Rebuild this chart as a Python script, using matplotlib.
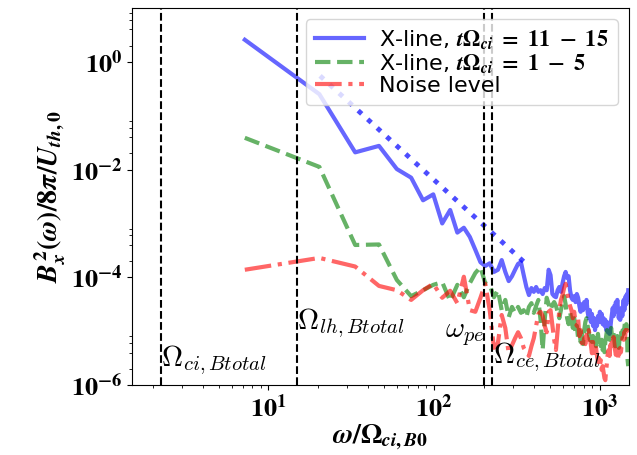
import numpy as np
import matplotlib
matplotlib.use("Agg")
import matplotlib.pyplot as plt
from matplotlib import ticker

plt.rcParams['mathtext.fontset'] = 'custom'
plt.rcParams['mathtext.rm'] = 'STIXGeneral:bold'
plt.rcParams['mathtext.it'] = 'STIXGeneral:bold:italic'
plt.rcParams['mathtext.bf'] = 'STIXGeneral:bold'

# frequency bins (omega / Omega_ci,B0)
omega0 = 7.2
dw = 13.1

# log10 of B_x^2 spectra
logb_late = [
    0.41, -0.60, -1.68, -1.56, -1.99, -2.15, -2.57, -2.46, -3.00, -2.75,
    -3.17, -3.08, -3.25, -3.49, -3.72, -3.79, -3.74, -3.90, -3.86, -3.68,
    -3.90, -4.07, -3.98, -3.86, -3.75, -3.72, -3.96, -4.18, -4.33, -4.20,
    -4.27, -4.18, -4.27, -4.24, -4.31, -4.20, -4.24, -3.86, -3.96, -4.31,
    -4.35, -4.37, -4.24, -4.18, -4.27, -4.11, -3.98, -3.90, -4.01, -3.98,
    -4.24, -4.38, -4.42, -4.35, -4.46, -4.31, -4.38, -4.53, -4.64, -4.50,
    -4.61, -4.46, -4.57, -4.42, -4.64, -4.76, -4.61, -4.83, -4.68, -4.90,
    -4.76, -4.98, -4.79, -4.90, -4.72, -4.83, -4.64, -4.79, -4.68, -4.87,
    -4.76, -4.90, -4.79, -4.98, -4.83, -5.02, -4.90, -5.05, -4.94, -4.79,
    -4.68, -4.57, -4.72, -4.53, -4.64, -4.46, -4.57, -4.42, -4.61, -4.76,
    -4.64, -4.79, -4.68, -4.57, -4.72, -4.53, -4.42, -4.61, -4.46, -4.35,
    -4.50, -4.31, -4.42, -4.24,
]
logb_early = [
    -1.41, -1.95, -3.40, -3.39, -4.05, -4.35, -4.24, -4.14, -4.09, -4.44,
    -4.14, -4.37, -4.11, -3.92, -3.81, -4.11, -4.14, -4.37, -4.24, -4.61,
    -4.42, -4.74, -4.55, -4.66, -4.55, -4.66, -4.61, -4.74, -4.55, -4.48,
    -4.66, -4.53, -4.42, -4.79, -5.35, -4.79, -4.38, -4.50, -4.61, -4.51,
    -4.46, -4.53, -4.64, -4.76, -4.61, -4.46, -4.35, -4.50, -4.76, -4.87,
    -4.64, -4.79, -4.94, -4.76, -5.05, -4.90, -5.13, -4.98, -5.20, -5.05,
    -5.24, -4.98, -4.83, -4.76, -4.90, -5.02, -5.16, -5.05, -5.20, -5.09,
    -5.24, -5.13, -5.28, -5.16, -5.05, -5.20, -5.09, -5.28, -5.16, -5.35,
    -5.24, -5.39, -5.20, -5.09, -4.98, -5.13, -5.02, -5.16, -5.05, -4.94,
    -5.09, -4.98, -5.05, -5.16, -5.28, -5.13, -5.24, -5.09, -5.20, -5.31,
    -5.16, -5.09, -4.98, -5.13, -5.02, -4.90, -5.05, -4.94, -4.83, -4.98,
    -4.87, -4.98, -5.54, -5.65,
]
logb_noise = [
    -3.86, -3.64, -3.80, -4.16, -4.24, -4.42, -4.24, -4.12, -4.38, -4.25,
    -4.48, -3.99, -4.61, -4.64, -4.38, -4.12, -4.61, -5.31, -5.22, -4.70,
    -4.94, -5.41, -5.26, -5.13, -5.02, -5.13, -5.31, -5.39, -5.46, -5.28,
    -5.13, -4.90, -4.68, -4.64, -4.72, -4.90, -5.02, -4.64, -4.61, -4.89,
    -5.16, -5.35, -4.98, -4.61, -4.42, -4.33, -4.20, -4.12, -4.27, -4.42,
    -4.53, -4.61, -4.76, -4.64, -4.83, -4.90, -4.76, -5.09, -4.98, -5.20,
    -5.29, -5.13, -5.24, -5.07, -5.16, -4.98, -5.09, -5.26, -5.41, -5.20,
    -5.35, -5.50, -5.31, -5.46, -5.57, -5.50, -5.63, -5.54, -5.72, -5.65,
    -5.76, -5.87, -5.91, -5.72, -5.57, -5.39, -5.35, -5.46, -5.26, -5.35,
    -5.16, -5.26, -5.11, -5.24, -5.35, -5.44, -5.31, -5.39, -5.50, -5.35,
    -5.42, -5.31, -5.39, -5.26, -5.16, -5.05, -5.16, -5.02, -5.13, -4.98,
    -5.09, -4.98, -5.09, -5.13,
]

# power-law guide
fit_x = [20.5, 365.0]
fit_y = [0.55, 1.7e-4]

# characteristic frequencies
w_ci = 2.236
w_lh = 14.9
w_pe = 200.0
w_ce = 223.6

omega = omega0 + dw * np.arange(len(logb_late))

fig = plt.figure(figsize=(6.37, 4.55), dpi=100)
ax = fig.add_axes([0.2072, 0.1538, 0.780, 0.8286])

ax.plot(omega, 10.0 ** np.array(logb_late), color='b', ls='-', lw=3, alpha=0.6,
        label=r'X-line, $t\Omega_{ci}\ =\ 11\ -\ 15$')
ax.plot(omega, 10.0 ** np.array(logb_early), color='g', ls='--', lw=3, alpha=0.6,
        label=r'X-line, $t\Omega_{ci}\ =\ 1\ -\ 5$')
ax.plot(omega, 10.0 ** np.array(logb_noise), color='r', ls='-.', lw=3, alpha=0.6,
        label='Noise level')
ax.plot(fit_x, fit_y, color='b', ls=':', lw=3.5, alpha=0.7)

for w in [w_ci, w_lh, w_pe, w_ce]:
    ax.axvline(w, color='k', ls='--', lw=1.5)

ax.text(w_ci, 2.25e-6, r'$\Omega_{ci,Btotal}$', fontsize=21, math_fontfamily='cm')
ax.text(w_lh, 1.1e-5, r'$\Omega_{lh,Btotal}$', fontsize=21, math_fontfamily='cm')
ax.text(w_pe * 1.01, 7.8e-6, r'$\omega_{pe}$', fontsize=21, ha='right', math_fontfamily='cm')
ax.text(w_ce * 1.02, 2.57e-6, r'$\Omega_{ce,Btotal}$', fontsize=21, math_fontfamily='cm')

ax.set_xscale('log')
ax.set_yscale('log')
ax.set_xlim(1.5, 1500)
ax.set_ylim(1e-6, 10)
ax.yaxis.set_major_locator(ticker.FixedLocator([1e-6, 1e-4, 1e-2, 1e0]))
ax.yaxis.set_minor_locator(ticker.FixedLocator(
    [s * 10.0 ** e for e in (-6, -4, -2, 0) for s in (2, 4, 6, 8)]))
fmt = ticker.FuncFormatter(lambda v, p: r'$10^{%d}$' % round(np.log10(v)))
ax.xaxis.set_major_formatter(fmt)
ax.yaxis.set_major_formatter(fmt)
ax.yaxis.set_minor_formatter(ticker.NullFormatter())
ax.tick_params(labelsize=19)

ax.set_xlabel(r'$\omega/\Omega_{ci,B0}$', fontsize=20, labelpad=0)
ax.set_ylabel(r'$B_x^2(\omega)/8\pi/U_{th,0}$', fontsize=20, labelpad=2)
ax.legend(loc='upper right', fontsize=16, labelspacing=0.05, handlelength=2.2,
          handletextpad=0.7)

plt.savefig('out.png', dpi=100)
